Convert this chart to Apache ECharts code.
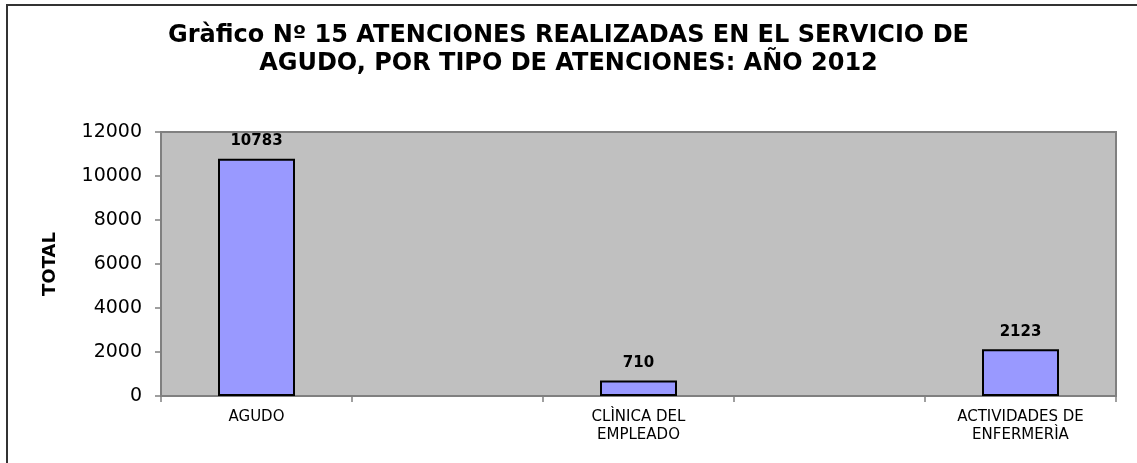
<!DOCTYPE html>
<html>
<head>
<meta charset="utf-8">
<script src="https://cdn.jsdelivr.net/npm/echarts@6/dist/echarts.min.js"></script>
<style>
html,body{margin:0;padding:0;background:#fff;}
#c{width:1137px;height:463px;}
</style>
</head>
<body>
<div id="c"></div>
<script>
var titleText = 'Gràfico Nº 15 ATENCIONES REALIZADAS EN EL SERVICIO DE\nAGUDO, POR TIPO DE ATENCIONES: AÑO 2012';
var categories = ['AGUDO', '', 'CLÌNICA DEL\nEMPLEADO', '', 'ACTIVIDADES DE\nENFERMERÌA'];
var totals = [10783, '-', 710, '-', 2123];
var yTicks = {min: 0, max: 12000, interval: 2000};
var yName = 'TOTAL';

var chart = echarts.init(document.getElementById('c'), null, {renderer: 'canvas'});
var FONT = '"DejaVu Sans", "Liberation Sans", Arial, sans-serif';
chart.setOption({
  animation: false,
  backgroundColor: '#fff',
  graphic: [{
    type: 'rect',
    shape: {x: 7, y: 5, width: 1300, height: 700},
    style: {fill: 'none', stroke: '#333', lineWidth: 2},
    z: -10
  }],
  title: {
    text: titleText,
    left: 'center',
    top: 17,
    padding: [5, 5, 5, 13],
    textStyle: {fontFamily: FONT, fontSize: 24, fontWeight: 'bold', color: '#000', lineHeight: 28}
  },
  grid: {
    left: 161, right: 21, top: 132, bottom: 67,
    show: true, backgroundColor: '#C0C0C0', borderColor: '#808080', borderWidth: 2
  },
  xAxis: {
    type: 'category',
    data: categories,
    boundaryGap: true,
    axisLine: {lineStyle: {color: '#808080', width: 2}},
    axisTick: {show: true, interval: 0, length: 6, lineStyle: {color: '#808080', width: 1.5}},
    axisLabel: {interval: 0, margin: 12, fontFamily: FONT, fontSize: 15, color: '#000', lineHeight: 18}
  },
  yAxis: {
    type: 'value',
    min: yTicks.min, max: yTicks.max, interval: yTicks.interval,
    name: yName,
    nameLocation: 'middle',
    nameGap: 102,
    nameRotate: 90,
    nameTextStyle: {fontFamily: FONT, fontSize: 18, fontWeight: 'bold', color: '#000'},
    splitLine: {show: false},
    axisLine: {show: true, lineStyle: {color: '#808080', width: 2}},
    axisTick: {show: true, length: 6, lineStyle: {color: '#808080', width: 1.5}},
    axisLabel: {
      margin: 19, fontFamily: FONT, fontSize: 19, color: '#000',
      formatter: function (v) { return String(v); }
    }
  },
  series: [{
    type: 'bar',
    data: totals,
    barWidth: 77,
    itemStyle: {color: '#9999FF', borderColor: '#000', borderWidth: 2},
    label: {show: true, position: 'top', distance: 10, fontFamily: FONT, fontSize: 15, fontWeight: 'bold', color: '#000'}
  }]
});
</script>
</body>
</html>
